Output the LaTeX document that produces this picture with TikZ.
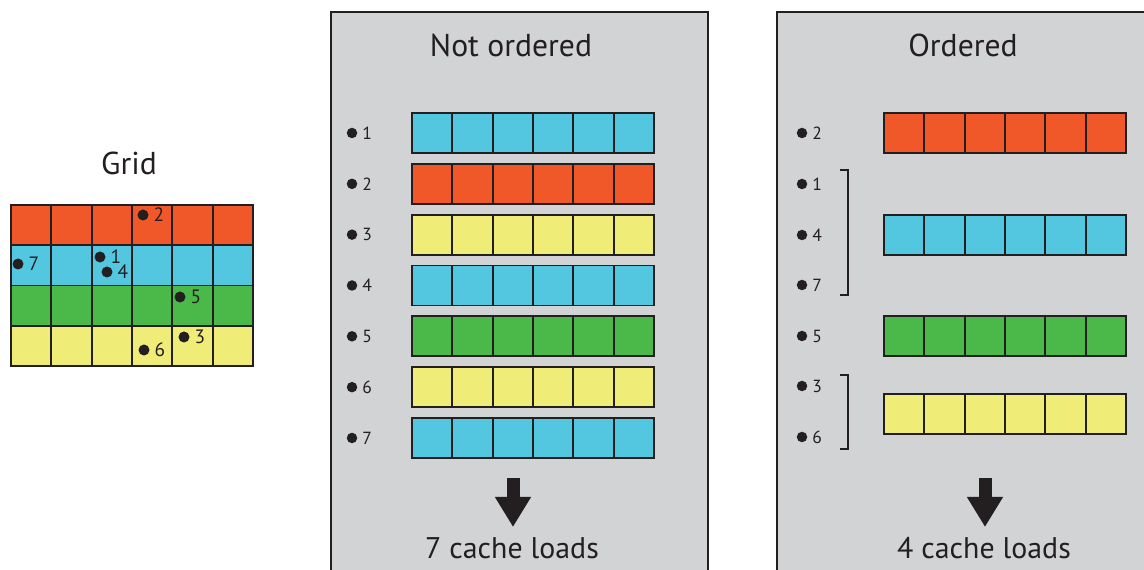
\documentclass[tikz,border=0pt]{standalone}
\usepackage{fontspec}
\setmainfont{PT Sans}
\usetikzlibrary{arrows.meta,positioning}
\definecolor{cellorange}{RGB}{241,88,41}
\definecolor{cellblue}{RGB}{84,199,224}
\definecolor{cellgreen}{RGB}{75,184,74}
\definecolor{cellyellow}{RGB}{240,236,120}
\definecolor{panelgray}{RGB}{209,211,212}
\definecolor{ink}{RGB}{35,31,32}
\tikzset{
  cell/.style={draw=ink,line width=1.1pt,minimum width=8.07mm,minimum height=8mm,
               inner sep=0pt,outer sep=0pt},
  gridcell/.style={cell,minimum height=8.05mm},
  panel/.style={fill=panelgray},
  rim/.style={draw=ink,line width=1.1pt},
  title/.style={font=\fontsize{18}{20}\selectfont,text=ink,inner sep=0pt},
  loads/.style={font=\fontsize{17}{19}\selectfont,text=ink,inner sep=0pt},
  dot/.style={circle,fill=ink,inner sep=0pt,minimum size=2.1mm},
  griddot/.style={dot,minimum size=2.2mm},
  idx/.style={font=\fontsize{10}{11}\selectfont,text=ink,inner sep=0pt},
  grididx/.style={idx,font=\fontsize{11}{12}\selectfont},
  bigarrow/.style={draw=ink,line width=2.6mm,-{Triangle[length=6mm,width=6.8mm]}},
  bracket/.style={draw=ink,line width=0.8pt},
}
\begin{document}
\begin{tikzpicture}[x=0.2mm,y=-0.2mm]
  \useasboundingbox (0,0) rectangle (1144,570);

  % the grid
  \node[title] (grid-title) at (129,163) {Grid};
  \foreach \col [count=\r] in {cellorange,cellblue,cellgreen,cellyellow}
    \foreach \c in {1,...,6}
      \node[gridcell,fill=\col] (g-\r-\c) at ({11+40.33*(\c-0.5)},{205+40.25*(\r-0.5)}) {};
  \foreach \n/\x/\y in {2/143/215,7/18/264,1/100/257,4/107/272,5/180/297,3/184/337,6/144/350} {
    \node[griddot] (g-pt\n) at (\x,\y) {};
    \node[grididx,right=0.9mm of g-pt\n] (g-lab\n) {\n};
  }

  % not ordered
  \fill[panel] (331,12) rectangle (708,570);
  \draw[rim] (331,570) -- (331,12) -- (708,12) -- (708,570);
  \node[title] (no-title) at (511,45) {Not ordered};
  \foreach \col [count=\r] in {cellblue,cellorange,cellyellow,cellblue,cellgreen,cellyellow,cellblue} {
    \foreach \c in {1,...,6}
      \node[cell,fill=\col] (no-\r-\c) at ({412+40.33*(\c-0.5)},{133+50.83*(\r-1)}) {};
    \node[dot] (no-pt\r) at (352,{133+50.83*(\r-1)}) {};
    \node[idx,right=0.9mm of no-pt\r] (no-lab\r) {\r};
  }
  \coordinate (no-tail) at (513,478);
  \coordinate (no-tip) at (513,527);
  \draw[bigarrow] (no-tail) -- (no-tip);
  \node[loads] (no-loads) at (512,548) {7 cache loads};

  % ordered
  \fill[panel] (777,12) rectangle (1144,570);
  \draw[rim] (777,570) -- (777,12) -- (1144,12);
  \node[title] (or-title) at (963,45) {Ordered};
  \foreach \col/\y [count=\r] in {cellorange/133,cellblue/235,cellgreen/336,cellyellow/414}
    \foreach \c in {1,...,6}
      \node[cell,fill=\col] (or-\r-\c) at ({884+40.33*(\c-0.5)},\y) {};
  \foreach \n/\y in {2/133,1/184,4/235,7/285,5/336,3/386,6/437} {
    \node[dot] (or-pt\n) at (802,\y) {};
    \node[idx,right=0.9mm of or-pt\n] (or-lab\n) {\n};
  }
  \coordinate (br1-top) at (848,170);
  \coordinate (br1-bot) at (848,295);
  \coordinate (br2-top) at (848,375);
  \coordinate (br2-bot) at (848,449);
  \draw[bracket] ([xshift=-1.6mm]br1-top) -- (br1-top) -- (br1-bot) -- ++(-8,0);
  \draw[bracket] ([xshift=-1.6mm]br2-top) -- (br2-top) -- (br2-bot) -- ++(-8,0);
  \coordinate (or-tail) at (985,478);
  \coordinate (or-tip) at (985,527);
  \draw[bigarrow] (or-tail) -- (or-tip);
  \node[loads] (or-loads) at (984,548) {4 cache loads};
\end{tikzpicture}
\end{document}
